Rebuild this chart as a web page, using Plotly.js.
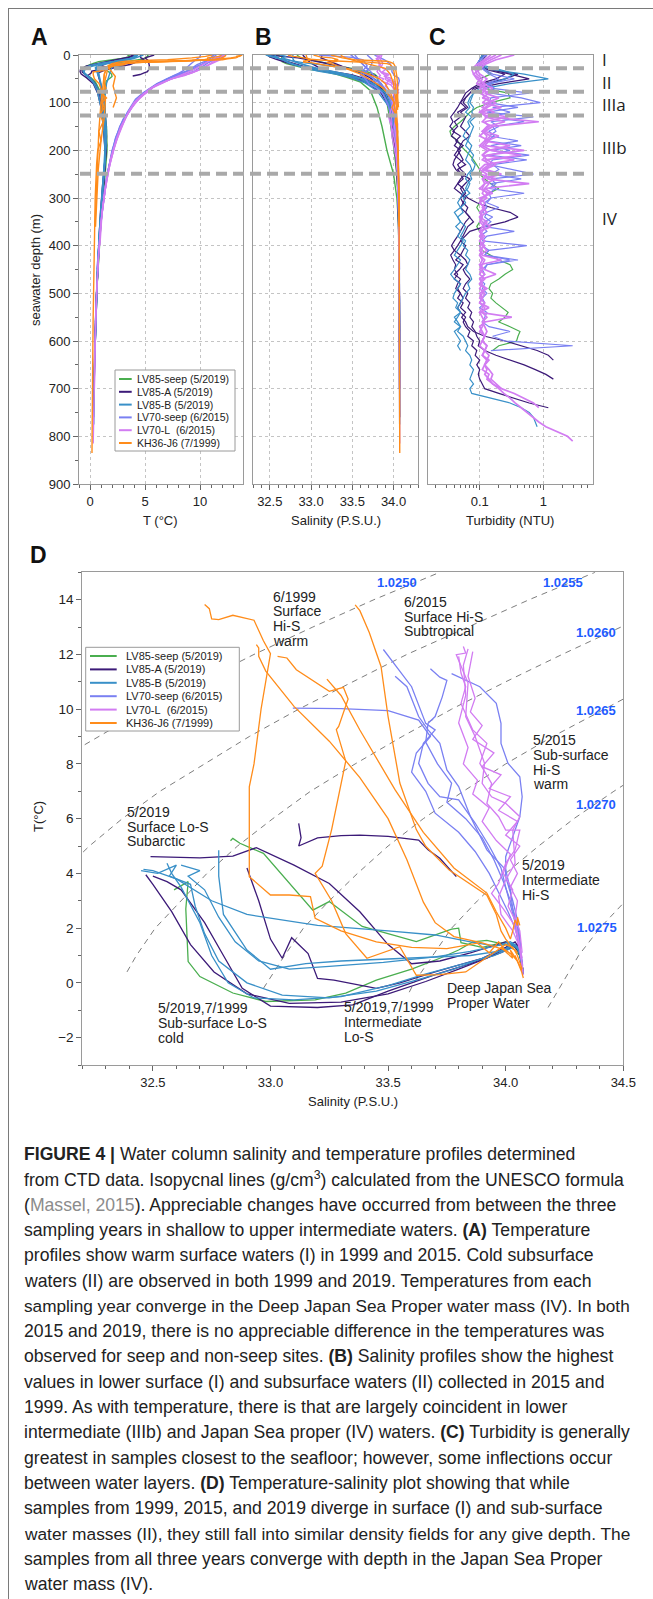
<!DOCTYPE html>
<html><head><meta charset="utf-8">
<script src="https://cdn.plot.ly/plotly-3.0.1.min.js"></script>
<style>html,body{margin:0;padding:0;background:#fff;}#chart{width:653px;height:1599px;}</style>
</head><body><div id="chart"></div>
<script>
// ---------------- DATA ----------------
const SERIES = ['LV85-seep (5/2019)','LV85-A (5/2019)','LV85-B (5/2019)','LV70-seep (6/2015)','LV70-L\u00a0 (6/2015)','KH36-J6 (7/1999)'];
const COLORS = ['#4aae4f','#3c1a78','#3990c8','#7a80f2','#d27cf2','#ff8c1a'];

// CTD casts: rows of [depth (m), salinity (PSU), temperature (°C)]
const LV85seep_1 = [[0,32.59,3.4],[3,32.65,3.7],[8,32.64,2.7],[14,32.65,0.78],[18,32.70,0.23],[24,32.84,-0.37],[30,32.98,-0.68],[36,33.19,-0.62],[41,33.32,-0.37],[48,33.45,0.1],[57,33.6,0.5],[75,33.72,0.9],[110,33.8,1.2],[150,33.86,1.5],[200,33.92,1.55],[250,34.0,1.4],[300,34.04,1.2],[350,34.06,1.0],[420,34.065,0.8],[500,34.07,0.6],[600,34.072,0.47]];
const LV85seep_2 = [[0,32.83,5.19],[2,32.84,5.28],[5,32.87,5.1],[9,32.97,4.73],[16,33.18,2.66],[20,33.25,2.97],[25,33.39,2.06],[32,33.62,1.51],[40,33.77,1.96],[45,33.8,2.0],[55,33.81,1.47],[80,33.9,1.3],[130,33.95,1.4],[190,34.0,1.5],[250,34.04,1.3],[320,34.06,1.05],[400,34.065,0.85],[480,34.07,0.65],[580,34.072,0.5]];
const LV85A_1 = [[0,32.49,4.61],[3,32.70,4.57],[6,32.84,4.63],[9,32.94,4.94],[14,33.1,4.3],[20,33.25,3.63],[25,33.38,2.6],[31,33.5,1.4],[38,33.6,0.7],[48,33.72,0.8],[70,33.85,1.1],[110,33.95,1.35],[170,34.0,1.5],[220,34.03,1.4],[280,34.05,1.2],[340,34.06,1.0],[400,34.065,0.8],[500,34.07,0.6],[600,34.072,0.45],[700,34.073,0.36]];
const LV85A_2 = [[0,33.12,5.83],[3,33.13,5.3],[6,33.12,5.0],[12,33.2,5.3],[18,33.3,5.38],[24,33.38,5.4],[30,33.5,5.35],[35,33.63,5.22],[38,33.67,4.86],[41,33.72,4.55],[44,33.79,3.88]];
const LV85A_3 = [[0,32.5,3.9],[4,32.56,3.7],[8,32.62,3.4],[14,32.72,2.2],[18,32.8,1.0],[23,32.88,-0.2],[29,33.0,-0.85],[35,33.2,-0.9],[40,33.35,-0.8],[48,33.5,-0.3],[60,33.7,0.3],[80,33.85,0.7],[120,33.98,1.1],[170,34.03,1.3],[210,34.05,1.4],[270,34.06,1.15],[330,34.065,0.95],[420,34.07,0.75],[520,34.072,0.55],[620,34.073,0.42],[700,34.074,0.35],[760,34.075,0.32]];
const LV85A_4 = [[0,32.9,4.2],[10,32.95,3.0],[17,33.0,1.6],[22,33.05,0.9],[26,33.09,1.65],[30,33.16,1.07],[34,33.2,0.16],[38,33.27,0.1],[43,33.45,-0.2],[48,33.55,0.0],[58,33.7,0.4],[80,33.9,0.9],[130,34.0,1.3],[190,34.04,1.5],[250,34.055,1.3],[300,34.06,1.1],[360,34.065,0.9],[450,34.07,0.7],[550,34.072,0.52],[640,34.073,0.42]];
const LV85A_5 = [[0,32.47,3.95],[4,32.5,3.6],[9,32.58,2.6],[14,32.66,1.4],[19,32.76,0.4],[24,32.9,-0.4],[30,33.08,-0.75],[36,33.3,-0.7],[42,33.5,-0.4],[50,33.66,0.05],[62,33.8,0.5],[85,33.92,0.9],[130,34.0,1.25],[190,34.03,1.4],[250,34.05,1.3],[320,34.06,1.05],[400,34.067,0.82],[500,34.07,0.6],[600,34.072,0.45]];
const LV85B_1 = [[0,32.46,4.15],[3,32.5,4.1],[7,32.6,3.8],[12,32.75,3.0],[16,32.9,2.5],[22,33.2,2.1],[30,33.5,1.9],[42,33.7,1.75],[60,33.85,1.5],[90,33.95,1.35],[140,34.0,1.4],[190,34.03,1.45],[240,34.05,1.3],[300,34.06,1.1],[360,34.065,0.9],[440,34.07,0.7],[560,34.072,0.5],[660,34.073,0.4],[775,34.074,0.34]];
const LV85B_2 = [[0,32.56,4.37],[4,32.58,4.0],[8,32.62,3.5],[13,32.7,2.2],[17,32.75,1.0],[22,32.82,0.0],[28,32.93,-0.55],[34,33.1,-0.62],[40,33.3,-0.5],[48,33.5,-0.1],[58,33.65,0.3],[75,33.8,0.65],[110,33.95,1.0],[160,34.02,1.25],[210,34.04,1.4],[270,34.055,1.2],[330,34.06,1.0],[400,34.067,0.8],[500,34.07,0.6],[600,34.072,0.45],[700,34.073,0.37]];
const LV85B_3 = [[0,32.78,4.85],[4,32.78,4.4],[8,32.78,3.9],[14,32.8,2.5],[20,32.9,1.2],[26,33.0,0.5],[32,33.15,0.7],[38,33.3,0.8],[50,33.6,0.9],[75,33.85,1.0],[120,34.0,1.2],[180,34.03,1.4],[240,34.05,1.25],[300,34.06,1.05],[370,34.065,0.85],[460,34.07,0.65]];
const LV85B_4 = [[0,32.45,4.1],[2,32.52,4.0],[4,32.6,4.3],[6,32.57,3.9],[9,32.66,3.6],[12,32.68,2.8],[16,32.72,1.8],[20,32.78,0.8],[25,32.9,0.0],[30,33.05,-0.45],[36,33.25,-0.55],[42,33.45,-0.3],[50,33.62,0.1],[62,33.78,0.5],[80,33.9,0.9],[120,34.0,1.25],[180,34.03,1.45],[240,34.05,1.3],[300,34.06,1.1],[380,34.065,0.85],[480,34.07,0.65],[600,34.072,0.48]];
const LV85B_5 = [[0,32.62,4.3],[3,32.7,4.1],[6,32.65,3.9],[9,32.72,3.4],[13,32.78,2.4],[17,32.85,1.5],[22,32.95,0.8],[28,33.08,0.5],[34,33.25,0.6],[42,33.48,0.75],[55,33.7,0.95],[75,33.85,1.15],[110,33.96,1.35],[160,34.02,1.5],[220,34.045,1.35],[290,34.06,1.1],[360,34.065,0.88],[450,34.07,0.68],[560,34.072,0.5]];
const LV70S_1 = [[0,33.48,12.18],[15,33.6,10.82],[25,33.66,9.48],[30,33.7,9.24],[35,33.65,8.75],[41,33.63,8.02],[48,33.67,7.29],[53,33.72,6.8],[55,33.8,6.69],[65,33.87,5.84],[78,33.93,5.0],[95,33.98,4.2],[119,34.0,3.5],[150,34.02,2.8],[190,34.04,2.2],[245,34.05,1.6],[300,34.06,1.25],[350,34.065,1.0],[410,34.068,0.8],[500,34.07,0.6],[600,34.072,0.48],[620,34.073,0.46]];
const LV70S_2 = [[0,33.53,11.2],[10,33.58,10.82],[20,33.63,9.73],[28,33.67,9.24],[34,33.72,8.75],[41,33.75,7.78],[48,33.8,7.17],[60,33.85,6.08],[79,33.92,4.86],[93,34.0,4.13],[120,34.02,3.4],[150,34.03,2.7],[200,34.05,2.0],[260,34.06,1.5],[330,34.065,1.1],[410,34.07,0.8],[450,34.072,0.62]];
const LV70S_3 = [[0,33.77,11.3],[10,33.89,10.82],[19,33.96,10.21],[28,33.98,9.48],[35,33.98,8.75],[43,34.01,8.02],[48,34.06,7.53],[54,34.07,6.8],[61,34.06,6.07],[73,34.03,5.34],[85,34.0,4.61],[106,34.0,3.88],[135,34.03,3.0],[175,34.05,2.3],[235,34.06,1.7],[290,34.065,1.3]];
const LV70S_4 = [[0,33.095,10.04],[3,33.3,10.02],[5,33.5,9.95],[10,33.63,9.6],[23,33.68,9.0],[34,33.62,8.4],[43,33.6,7.7],[50,33.66,7.0],[60,33.7,6.2],[70,33.8,5.5],[81,33.87,4.8],[103,33.93,4.0],[128,33.97,3.3],[160,34.01,2.6],[205,34.04,2.0],[260,34.055,1.5],[300,34.06,1.2]];
const LV70S_5 = [[0,33.68,11.48],[6,33.72,11.17],[11,33.75,11.05],[21,33.73,10.44],[30,33.7,9.73],[34,33.67,9.48],[39,33.66,8.8],[45,33.71,8.0],[50,33.77,7.3],[56,33.75,6.6],[63,33.83,6.0],[73,33.9,5.3],[88,33.95,4.5],[113,33.99,3.7],[140,34.02,3.0],[170,34.04,2.4],[215,34.05,1.9],[260,34.06,1.5]];
const LV70L_1 = [[0,33.82,12.29],[5,33.83,12.05],[8,33.79,11.99],[19,33.84,10.96],[33,33.83,9.73],[39,33.87,9.0],[45,33.91,8.02],[51,33.9,7.29],[56,33.94,6.8],[59,34.0,6.56],[63,34.06,6.07],[70,34.03,5.58],[94,34.04,4.37],[110,34.0,3.76],[135,33.97,3.15],[170,33.98,2.5],[215,34.03,1.9],[260,34.05,1.5],[310,34.06,1.2],[360,34.065,0.95],[420,34.068,0.78],[500,34.07,0.6],[600,34.072,0.47],[700,34.073,0.38],[780,34.074,0.32],[815,34.075,0.29]];
const LV70L_2 = [[0,33.8,11.93],[12,33.81,11.32],[20,33.83,10.82],[28,33.81,10.21],[38,33.86,9.24],[41,33.92,8.75],[45,33.89,8.02],[51,33.94,7.29],[59,33.92,6.56],[63,33.97,6.07],[70,34.0,5.58],[73,34.06,5.58],[83,34.04,4.86],[94,34.0,4.37],[115,33.97,3.64],[130,33.94,3.27],[160,33.99,2.7],[195,34.03,2.2],[240,34.05,1.7],[295,34.06,1.3],[350,34.065,1.0],[450,34.07,0.7],[560,34.072,0.5],[700,34.073,0.4]];
const LV70L_3 = [[0,33.84,12.2],[10,33.82,11.6],[24,33.83,10.5],[35,33.8,9.5],[43,33.84,8.6],[46,33.82,8.0],[50,33.88,7.4],[55,33.86,6.9],[60,33.93,6.4],[65,33.9,5.9],[76,33.96,5.2],[86,34.02,4.7],[104,33.99,4.0],[125,34.03,3.4],[150,34.01,2.8],[185,34.04,2.3],[230,34.05,1.8],[280,34.06,1.4],[330,34.065,1.1],[400,34.07,0.9]];
const LV70L_4 = [[0,33.86,12.1],[8,33.84,11.2],[18,33.87,10.4],[25,33.85,9.9],[31,33.9,9.4],[36,33.86,8.9],[41,33.95,8.4],[45,33.9,7.9],[49,33.98,7.6],[53,33.93,7.1],[56,34.02,6.8],[60,33.97,6.3],[65,34.05,5.9],[71,34.0,5.4],[79,34.06,5.0],[88,34.02,4.5],[100,34.05,4.0],[119,34.02,3.5],[145,34.05,3.0],[180,34.04,2.4],[220,34.06,1.9],[270,34.065,1.45],[330,34.07,1.1]];
const KH36_1 = [[0,32.72,13.82],[1,32.74,13.67],[2,32.75,13.3],[3,32.78,13.27],[4,32.84,13.43],[6,32.93,13.25],[8,32.97,12.5],[10,33.0,12.03],[11,32.96,10.0],[12,32.93,8.0],[13,32.91,7.16],[14,32.91,5.5],[15,32.91,3.88],[16,33.0,3.21],[18,33.08,3.21],[20,33.17,3.15],[22,33.19,2.36],[25,33.3,1.9],[30,33.45,1.5],[40,33.6,1.3],[55,33.75,1.25],[70,33.88,1.45],[80,33.93,1.1],[90,33.97,1.5],[100,34.01,1.05],[110,33.98,1.3],[125,34.03,0.9],[140,34.02,1.2],[160,34.05,0.8],[180,34.04,1.0],[200,34.055,0.7],[230,34.06,0.6],[300,34.065,0.47],[380,34.068,0.4],[460,34.07,0.33],[560,34.072,0.28],[660,34.073,0.24],[760,34.074,0.21],[835,34.075,0.18]];
const KH36_2 = [[0,32.94,12.36],[3,32.95,12.24],[6,32.95,11.93],[9,32.98,11.39],[11,33.1,10.1],[12,33.25,8.83],[13,33.38,7.5],[14,33.5,6.0],[15,33.58,4.5],[17,33.65,2.95],[19,33.7,2.2],[22,33.78,1.69],[28,33.9,1.46],[40,33.96,1.3],[60,34.0,1.2],[100,34.03,1.0],[160,34.05,0.8],[250,34.06,0.62],[360,34.068,0.45]];
const KH36_3 = [[0,33.36,13.81],[3,33.38,13.6],[6,33.42,12.8],[9,33.47,11.56],[11,33.5,9.73],[12,33.53,8.3],[13,33.55,7.3],[14,33.62,5.6],[15,33.66,4.99],[16,33.76,4.12],[18,33.92,3.2],[20,33.96,2.5],[24,33.98,1.9],[30,34.0,1.6],[40,34.01,1.5],[55,34.02,1.35],[75,34.03,1.25],[95,34.04,1.2],[115,34.05,1.1]];
const KH36_4 = [[0,33.03,11.93],[2,33.07,11.87],[4,33.11,11.44],[6,33.25,10.65],[8,33.31,10.8],[10,33.33,10.37],[11,33.29,9.37],[12,33.28,9.25],[13,33.32,8.1],[14,33.26,5.6],[15,33.22,4.26],[16,33.19,4.0],[19,33.26,3.0],[23,33.32,1.8],[27,33.41,0.9],[32,33.55,1.32],[36,33.62,0.28],[42,33.72,0.3],[50,33.83,0.4],[60,33.9,0.82],[75,33.95,1.1],[95,34.0,1.4],[130,34.03,1.3],[180,34.05,1.0],[240,34.06,0.75],[300,34.065,0.6],[360,34.07,0.5]];
const KH36_5 = [[0,33.24,11.1],[3,33.3,10.5],[6,33.38,9.24],[8,33.45,8.2],[10,33.53,7.05],[11,33.65,5.5],[12,33.78,4.2],[13,33.92,3.28],[15,33.96,2.6],[18,34.0,2.0],[24,34.02,1.6],[32,34.03,1.9],[45,34.04,2.3],[65,34.05,2.1],[90,34.05,2.4],[110,34.06,2.1]];

// Turbidity (NTU) casts, sampled on TURB_DEPTH
const TURB_DEPTH = [0,10,20,30,40,50,60,70,80,90,100,110,120,130,140,150,160,170,180,190,200,210,220,230,240,250,260,270,280,290,300,310,320,330,340,350,360,370,380,390,400,410,420,430,440,450,460,470,480,490,500,510,520,530,540,550,560,570,580,590,600,610,620,630,640,650,660,670,680,690,700,710,720,730,740,750,760,770,780,790,800,810,820];
const TURB_seep_1 = [0.12,0.11,0.1,0.12,0.15,0.1,0.09,0.12,0.28,0.3,0.15,0.09,0.07,0.06,0.05,0.04,0.034,0.036,0.045,0.05,0.06,0.07,0.08,0.09,0.1,0.1,0.12,0.15,0.2,0.14,0.11,0.1,0.09,0.1,0.11,0.1,0.09,0.1,0.11,0.1,0.1,0.11,0.15,0.2,0.3,0.33,0.25,0.2,0.15,0.14,0.16,0.15,0.18,0.22,0.28,0.25,0.2,0.3,0.43,0.4,0.38,0.2,0.16];
const TURB_A_1 = [0.13,0.11,0.1,0.14,0.3,0.6,0.2,0.09,0.07,0.06,0.05,0.06,0.045,0.05,0.04,0.045,0.038,0.05,0.042,0.055,0.045,0.04,0.05,0.06,0.045,0.052,0.07,0.06,0.05,0.055,0.065,0.09,0.15,0.3,0.4,0.25,0.12,0.07,0.06,0.05,0.045,0.04,0.05,0.042,0.055,0.048,0.04,0.05,0.045,0.042,0.05,0.045,0.055,0.05,0.06,0.052,0.06,0.065,0.08,0.12,0.25,0.45,0.8,1.2,1.44];
const TURB_A_2 = [0.12,0.1,0.09,0.12,0.25,0.18,0.1,0.075,0.06,0.055,0.05,0.045,0.04,0.035,0.038,0.034,0.04,0.036,0.045,0.04,0.05,0.045,0.04,0.038,0.042,0.05,0.055,0.045,0.04,0.05,0.06,0.055,0.05,0.06,0.07,0.06,0.055,0.05,0.045,0.04,0.036,0.04,0.035,0.038,0.042,0.04,0.045,0.04,0.05,0.045,0.05,0.055,0.05,0.045,0.05,0.06,0.055,0.06,0.07,0.065,0.08,0.075,0.09,0.085,0.1,0.09,0.1,0.095,0.1,0.11,0.12,0.2,0.35,0.6,1.2];
const TURB_A_3 = [0.11,0.1,0.1,0.13,0.4,0.25,0.12,0.08,0.07,0.06,0.055,0.065,0.05,0.06,0.055,0.05,0.06,0.07,0.055,0.05,0.045,0.05,0.055,0.045,0.05,0.06,0.05,0.045,0.055,0.06,0.05,0.055,0.065,0.06,0.07,0.08,0.065,0.06,0.055,0.05,0.06,0.055,0.05,0.06,0.065,0.055,0.06,0.07,0.06,0.055,0.065,0.06,0.07,0.065,0.075,0.07,0.08,0.075,0.085,0.09,0.1,0.095,0.12,0.18,0.3,0.5,0.75,1.1,1.44];
const TURB_B_1 = [0.12,0.1,0.09,0.15,0.5,1.2,0.3,0.12,0.08,0.07,0.065,0.07,0.06,0.075,0.065,0.07,0.06,0.055,0.065,0.06,0.07,0.065,0.06,0.07,0.075,0.065,0.06,0.07,0.065,0.055,0.05,0.045,0.05,0.04,0.045,0.05,0.042,0.05,0.045,0.055,0.05,0.045,0.04,0.05,0.045,0.04,0.035,0.04,0.05,0.045,0.04,0.038,0.045,0.042,0.05,0.045,0.04,0.05,0.045,0.055,0.06,0.065,0.06,0.07,0.075,0.07,0.08,0.075,0.07,0.08,0.07,0.075,0.15,0.3,0.45,0.6,0.7,0.75,0.8];
const TURB_B_2 = [0.11,0.1,0.1,0.2,0.35,0.25,0.15,0.1,0.08,0.075,0.07,0.08,0.075,0.085,0.07,0.08,0.075,0.07,0.065,0.075,0.07,0.08,0.075,0.085,0.08,0.07,0.075,0.065,0.06,0.07,0.055,0.06,0.05,0.055,0.045,0.05,0.06,0.055,0.05,0.06,0.055,0.065,0.06,0.07,0.065,0.06,0.07,0.075,0.065,0.07,0.06,0.055,0.05,0.045,0.05,0.04,0.045,0.05,0.04,0.045,0.05,0.045,0.05];
const TURB_70S_1 = [0.12,0.11,0.1,0.12,0.16,0.35,0.14,0.17,0.15,0.45,0.9,0.16,0.3,0.15,0.5,0.16,0.18,0.14,0.4,0.15,0.3,0.14,0.55,0.16,0.2,0.15,0.45,0.15,0.18,0.14,0.15,0.12,0.13,0.11,0.16,0.12,0.11,0.13,0.1,0.12,0.11,0.14,0.12,0.4,0.13,0.11,0.12,0.1,0.12,0.11,0.13,0.11,0.12,0.1,0.13,0.12,0.11,0.14,0.3,0.16,0.25,2.9,0.15];
const TURB_70S_2 = [0.13,0.1,0.09,0.11,0.14,0.2,0.13,0.16,0.6,0.15,0.14,0.4,0.13,0.7,0.15,0.2,0.14,0.17,0.13,0.45,0.15,0.6,0.16,0.14,0.3,0.7,0.15,0.18,0.14,0.5,0.15,0.13,0.2,0.13,0.12,0.15,0.12,0.35,0.13,0.11,0.55,0.14,0.12,0.3,0.13,0.12];
const TURB_70L_1 = [0.22,0.15,0.11,0.09,0.1,0.13,0.11,0.16,0.12,0.2,0.13,0.11,0.17,0.12,0.25,0.13,0.11,0.15,0.12,0.3,0.14,0.11,0.13,0.18,0.12,0.22,0.11,0.14,0.12,0.16,0.1,0.12,0.11,0.13,0.1,0.11,0.15,0.1,0.11,0.1,0.12,0.1,0.11,0.22,0.1,0.11,0.1,0.12,0.1,0.13,0.1,0.11,0.1,0.14,0.1,0.11,0.12,0.1,0.11,0.12,0.11,0.13,0.12,0.11,0.14,0.12,0.13,0.12,0.14,0.16,0.2,0.24,0.3,0.36,0.45,0.55,0.7,0.85,1.1,1.6,2.4,2.9];
const TURB_70L_2 = [0.35,0.18,0.12,0.1,0.08,0.09,0.12,0.1,0.14,0.11,0.18,0.13,0.1,0.14,0.85,0.16,0.12,0.2,0.13,0.11,0.15,0.45,0.12,0.14,0.11,0.17,0.13,0.6,0.12,0.11,0.13,0.1,0.12,0.11,0.1,0.13,0.11,0.1,0.12,0.1,0.11,0.13,0.1,0.11,0.1,0.12,0.18,0.11,0.1,0.12,0.11,0.1,0.12,0.11,0.1,0.32,0.12,0.11,0.1,0.12,0.11,0.1,0.12,0.11,0.13,0.12,0.11,0.14,0.13,0.16,0.22,0.35,0.5,0.7,0.85];
const TURB_70L_3 = [0.15,0.12,0.09,0.075,0.08,0.1,0.09,0.12,0.1,0.14,0.11,0.22,0.1,0.13,0.11,0.16,0.12,0.1,0.14,0.12,0.5,0.13,0.11,0.15,0.12,0.1,0.18,0.12,0.11,0.13,0.12];
const TURB_70L_4 = [0.18,0.13,0.1,0.085,0.09,0.11,0.1,0.13,0.11,0.12,0.15,0.12,0.1,0.28,0.12,0.14,0.11,0.13,0.12,0.1,0.13,0.11,0.35,0.12,0.1,0.13,0.11,0.12,0.1,0.14,0.11,0.1,0.12,0.1,0.11,0.1,0.12,0.11,0.1,0.12,0.1,0.11,0.1,0.12,0.11,0.1,0.12,0.1,0.11,0.1,0.12,0.11,0.1,0.12,0.11,0.13,0.11,0.12,0.13,0.12,0.11,0.13,0.12,0.14,0.13,0.12,0.14,0.16,0.15,0.18,0.22];

// Isopycnals: salinity and temperature points along each density line
const ISO_LABELS = ['1.0250','1.0255','1.0260','1.0265','1.0270','1.0275'];
const ISO_250_S = [32.17,32.27,32.47,32.70,32.93,33.18,33.44,33.72];
const ISO_250_T = [8.5,9,10,11,12,13,14,15];
const ISO_255_S = [32.17,32.23,32.37,32.53,32.72,32.91,33.12,33.35,33.58,33.84,34.10,34.38];
const ISO_255_T = [4.5,5,6,7,8,9,10,11,12,13,14,15];
const ISO_260_S = [32.39,32.43,32.51,32.62,32.73,32.86,33.01,33.17,33.36,33.56,33.77,34.0,34.24,34.49,34.55];
const ISO_260_T = [0.4,1,2,3,4,5,6,7,8,9,10,11,12,13,13.2];
const ISO_265_S = [32.97,33.06,33.14,33.25,33.37,33.5,33.65,33.82,34.0,34.2,34.42,34.55];
const ISO_265_T = [-0.2,1,2,3,4,5,6,7,8,9,10,10.6];
const ISO_270_S = [33.59,33.61,33.69,33.77,33.88,34.0,34.14,34.29,34.46,34.55];
const ISO_270_T = [-0.34,0,1,2,3,4,5,6,7,7.5];
const ISO_275_S = [34.18,34.24,34.31,34.4,34.51];
const ISO_275_T = [-0.9,0,1,2,3];

// ---------------- BUILD ----------------
const W = 653, H = 1599;
const X = v => v / W, Y = v => 1 - v / H;
const FONT = '"Liberation Sans", Arial, Helvetica, sans-serif';

const tsCasts = [
  [0, LV85seep_1], [0, LV85seep_2],
  [1, LV85A_1], [1, LV85A_2], [1, LV85A_3], [1, LV85A_4], [1, LV85A_5],
  [2, LV85B_1], [2, LV85B_2], [2, LV85B_3], [2, LV85B_4], [2, LV85B_5],
  [3, LV70S_1], [3, LV70S_2], [3, LV70S_3], [3, LV70S_4], [3, LV70S_5],
  [4, LV70L_1], [4, LV70L_2], [4, LV70L_3], [4, LV70L_4],
  [5, KH36_1], [5, KH36_2], [5, KH36_3], [5, KH36_4], [5, KH36_5]
];
const turbCasts = [
  [0, TURB_seep_1], [1, TURB_A_1], [1, TURB_A_2], [1, TURB_A_3],
  [2, TURB_B_1], [2, TURB_B_2], [3, TURB_70S_1], [3, TURB_70S_2],
  [4, TURB_70L_1], [4, TURB_70L_2], [4, TURB_70L_3], [4, TURB_70L_4]
];
const isoS = [ISO_250_S, ISO_255_S, ISO_260_S, ISO_265_S, ISO_270_S, ISO_275_S];
const isoT = [ISO_250_T, ISO_255_T, ISO_260_T, ISO_265_T, ISO_270_T, ISO_275_T];

const traces = [];
const base = {type:'scatter', mode:'lines', hoverinfo:'skip', showlegend:false};
isoS.forEach((s, i) => traces.push(Object.assign({}, base, {x:s, y:isoT[i], xaxis:'x4', yaxis:'y4', name:ISO_LABELS[i], line:{color:'#6e6e6e', width:0.9, dash:'6px,5px'}})));
tsCasts.forEach(([si, rows]) => {
  const d = rows.map(r => r[0]), s = rows.map(r => r[1]), t = rows.map(r => r[2]);
  traces.push(Object.assign({}, base, {x:t, y:d, xaxis:'x', yaxis:'y', name:SERIES[si], line:{color:COLORS[si], width:1.4}}));
  traces.push(Object.assign({}, base, {x:s, y:d, xaxis:'x2', yaxis:'y2', name:SERIES[si], line:{color:COLORS[si], width:1.4}}));
  traces.push(Object.assign({}, base, {x:s, y:t, xaxis:'x4', yaxis:'y4', name:SERIES[si], line:{color:COLORS[si], width:1.3}}));
});
turbCasts.forEach(([si, vals]) => traces.push(Object.assign({}, base, {x:vals, y:TURB_DEPTH.slice(0, vals.length), xaxis:'x3', yaxis:'y3', name:SERIES[si], line:{color:COLORS[si], width: si === 4 ? 1.7 : 1.2}})));

const tickfont = {family:FONT, size:13, color:'#222'};
const ax = {showline:true, linecolor:'#9a9a9a', linewidth:1, mirror:true, ticks:'outside', ticklen:5, tickcolor:'#666', tickwidth:1, tickfont, zeroline:false, fixedrange:true};
const grid = {showgrid:true, gridcolor:'#c4c4c4', gridwidth:1, griddash:'dot'};
const depthDom = [Y(484), Y(55)];
const minorTicks = extra => Object.assign({ticks:'outside', ticklen:3, tickcolor:'#666', showgrid:false}, extra);
const logMinor = [0.02,0.03,0.04,0.05,0.06,0.07,0.08,0.09,0.2,0.3,0.4,0.5,0.6,0.7,0.8,0.9,2,3,4,5];

const layout = {
  width:W, height:H, margin:{l:0, r:0, t:0, b:0}, paper_bgcolor:'#fff', plot_bgcolor:'#fff',
  showlegend:false, hovermode:false, font:{family:FONT, color:'#222'},
  xaxis: Object.assign({}, ax, grid, {domain:[X(79), X(243)], range:[-1, 13.9], tickvals:[0,5,10], anchor:'y', minor:minorTicks({dtick:1, tick0:0})}),
  yaxis: Object.assign({}, ax, grid, {domain:depthDom, range:[900, 0], tick0:0, dtick:100, anchor:'x', minor:minorTicks({dtick:50, tick0:0})}),
  xaxis2: Object.assign({}, ax, grid, {domain:[X(253.3), X(418.3)], range:[32.3, 34.3], tickvals:[32.5,33,33.5,34], ticktext:['32.5','33.0','33.5','34.0'], anchor:'y2', minor:minorTicks({dtick:0.1, tick0:32.3})}),
  yaxis2: Object.assign({}, ax, grid, {domain:depthDom, range:[900, 0], tick0:0, dtick:100, anchor:'x2', ticks:'', showticklabels:false}),
  xaxis3: Object.assign({}, ax, grid, {type:'log', domain:[X(428.3), X(592.7)], range:[-1.808, 0.777], tickvals:[0.1,1], ticktext:['0.1','1'], anchor:'y3', minor:minorTicks({tickmode:'array', tickvals:logMinor})}),
  yaxis3: Object.assign({}, ax, grid, {domain:depthDom, range:[900, 0], tick0:0, dtick:100, anchor:'x3', ticks:'', showticklabels:false}),
  xaxis4: Object.assign({}, ax, {domain:[X(82.3), X(623.3)], range:[32.2, 34.5], tickvals:[32.5,33,33.5,34,34.5], ticktext:['32.5','33.0','33.5','34.0','34.5'], anchor:'y4', showgrid:false, minor:minorTicks({dtick:0.1, tick0:32.2})}),
  yaxis4: Object.assign({}, ax, {domain:[Y(1065), Y(572.3)], range:[-3, 15], tick0:0, dtick:2, anchor:'x4', showgrid:false, tickfont:{family:FONT, size:13.5, color:'#222'}, minor:minorTicks({dtick:1, tick0:0})}),
  shapes: [], annotations: []
};

const A = (text, x, y, o) => Object.assign({text, x:X(x), y:Y(y), xref:'paper', yref:'paper', showarrow:false, xanchor:'center', yanchor:'middle', font:{family:FONT, size:13, color:'#222'}}, o || {});

// frame
layout.shapes.push({type:'line', xref:'paper', yref:'paper', x0:X(8), x1:1, y0:Y(8.5), y1:Y(8.5), line:{color:'#7a7a7a', width:1}});
layout.shapes.push({type:'line', xref:'paper', yref:'paper', x0:X(8.5), x1:X(8.5), y0:Y(8), y1:0, line:{color:'#7a7a7a', width:1}});

// water-mass boundaries
[28, 77, 127, 249].forEach(d => layout.shapes.push({type:'line', xref:'paper', yref:'y', x0:X(80), x1:X(589), y0:d, y1:d, layer:'above', line:{color:'#a9a9a9', width:4, dash:'11px,6px'}}));

// legends
function legend(L) {
  layout.shapes.push({type:'rect', xref:'paper', yref:'paper', x0:X(L.x0), x1:X(L.x1), y0:Y(L.y1), y1:Y(L.y0), layer:'above', fillcolor:'#fff', line:{color:'#9a9a9a', width:1}});
  SERIES.forEach((name, i) => {
    const y = L.ty0 + i * L.dy;
    layout.shapes.push({type:'line', xref:'paper', yref:'paper', x0:X(L.lx0), x1:X(L.lx1), y0:Y(y), y1:Y(y), layer:'above', line:{color:COLORS[i], width:2}});
    layout.annotations.push(A(name, L.tx, y, {xanchor:'left', borderpad:0, font:{family:FONT, size:L.fs, color:'#222'}}));
  });
}
legend({x0:115, y0:370, x1:235, y1:451, lx0:119, lx1:131.7, tx:135.5, ty0:379, dy:12.8, fs:10.5});
legend({x0:85.7, y0:647.3, x1:239.3, y1:731, lx0:90, lx1:116.7, tx:124.5, ty0:656, dy:13.4, fs:11});

// panel letters
[['A',39.5,36.5],['B',263,36.5],['C',437,36.5],['D',38.7,554.7]].forEach(([t,x,y]) => layout.annotations.push(A('<b>'+t+'</b>', x, y, {font:{family:FONT, size:23, color:'#111'}})));

// water-mass labels
[['I',59],['II',82],['IIIa',104],['IIIb',147],['IV',218]].forEach(([t,y]) => layout.annotations.push(A(t, 601, y, {xanchor:'left', borderpad:0, font:{family:'"Open Sans", "Noto Sans", sans-serif', size:17, color:'#222'}})));

// axis titles
layout.annotations.push(A('seawater depth (m)', 35, 270, {textangle:-90}));
layout.annotations.push(A('T (°C)', 160, 520));
layout.annotations.push(A('Salinity (P.S.U.)', 336, 521));
layout.annotations.push(A('Turbidity (NTU)', 510, 521));
layout.annotations.push(A('T(°C)', 38, 817, {textangle:-90}));
layout.annotations.push(A('Salinity (P.S.U.)', 353, 1101));

// isopycnal labels
[[396.7,582.3],[562.7,582.3],[596,632.3],[596,710.7],[596,804],[597,927.7]].forEach(([x,y], i) => layout.annotations.push(A('<b>'+ISO_LABELS[i]+'</b>', x, y, {font:{family:FONT, size:13, color:'#1f5cff'}})));

// water-mass notes in panel D
const D_NOTES = [
  [271.7, 596.7, ['6/1999','Surface','Hi-S','warm']],
  [403.3, 601.7, ['6/2015','Surface Hi-S','Subtropical']],
  [532.3, 740, ['5/2015','Sub-surface','Hi-S','warm']],
  [520.7, 865, ['5/2019','Intermediate','Hi-S']],
  [125.7, 811.7, ['5/2019','Surface Lo-S','Subarctic']],
  [157, 1008, ['5/2019,7/1999','Sub-surface Lo-S','cold']],
  [342.5, 1007, ['5/2019,7/1999','Intermediate','Lo-S']],
  [445.8, 988.3, ['Deep Japan Sea','Proper Water']]
];
D_NOTES.forEach(([x, y, lines]) => lines.forEach((t, k) => layout.annotations.push(A(t, x, y + k * 14.8, {xanchor:'left', borderpad:0, font:{family:FONT, size:14, color:'#222'}}))));

// caption
const CAPTION = [
  '<b>FIGURE 4 |</b> Water column salinity and temperature profiles determined',
  'from CTD data. Isopycnal lines (g/cm<sup>3</sup>) calculated from the UNESCO formula',
  '(<span style="color:#8c8c8c">Massel, 2015</span>). Appreciable changes have occurred from between the three',
  'sampling years in shallow to upper intermediate waters. <b>(A)</b> Temperature',
  'profiles show warm surface waters (I) in 1999 and 2015. Cold subsurface',
  'waters (II) are observed in both 1999 and 2019. Temperatures from each',
  'sampling year converge in the Deep Japan Sea Proper water mass (IV). In both',
  '2015 and 2019, there is no appreciable difference in the temperatures was',
  'observed for seep and non-seep sites. <b>(B)</b> Salinity profiles show the highest',
  'values in lower surface (I) and subsurface waters (II) collected in 2015 and',
  '1999. As with temperature, there is that are largely coincident in lower',
  'intermediate (IIIb) and Japan Sea proper (IV) waters. <b>(C)</b> Turbidity is generally',
  'greatest in samples closest to the seafloor; however, some inflections occur',
  'between water layers. <b>(D)</b> Temperature-salinity plot showing that while',
  'samples from 1999, 2015, and 2019 diverge in surface (I) and sub-surface',
  'water masses (II), they still fall into similar density fields for any give depth. The',
  'samples from all three years converge with depth in the Japan Sea Proper',
  'water mass (IV).'
];
const ctx = document.createElement('canvas').getContext('2d');
function hasFont(name) {
  const s = 'abcdefghijklmnopqrstuvwxyzABCDEFGH0123456789';
  ctx.font = '40px monospace'; const w1 = ctx.measureText(s).width;
  ctx.font = '40px "' + name + '", monospace'; const w2 = ctx.measureText(s).width;
  return Math.abs(w1 - w2) > 0.5;
}
const CAP_FAMILY = hasFont('Liberation Sans Narrow') ? '"Liberation Sans Narrow", "Liberation Sans", Arial, sans-serif' : FONT;
const plain = t => t.replace(/<sup>3<\/sup>/g, '3').replace(/<[^>]+>/g, '');
ctx.font = '20px ' + CAP_FAMILY;
const baseSize = 20 * 603 / ctx.measureText(plain(CAPTION[1])).width;
CAPTION.forEach((t, k) => {
  ctx.font = baseSize + 'px ' + CAP_FAMILY;
  const w = ctx.measureText(plain(t)).width;
  const size = w > 606 ? baseSize * 606 / w : baseSize;
  layout.annotations.push(A(t, 22.5, 1154 + k * 25.3, {xanchor:'left', borderpad:0, font:{family:CAP_FAMILY, size:size, color:'#222'}}));
});

Plotly.newPlot('chart', traces, layout, {staticPlot:true, displayModeBar:false});
</script></body></html>
